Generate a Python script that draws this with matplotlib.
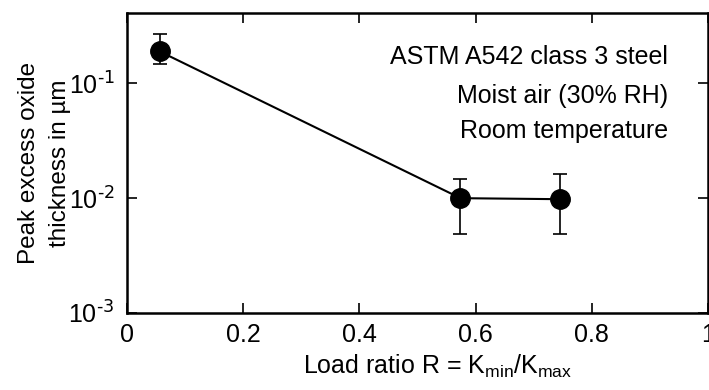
import matplotlib

matplotlib.use("Agg")
import matplotlib.pyplot as plt
import numpy as np

plt.rcParams["font.family"] = ["Liberation Sans", "DejaVu Sans"]
plt.rcParams["mathtext.default"] = "regular"

# Data
load_ratio = [0.056, 0.574, 0.745]
thickness = [0.19, 0.0100, 0.0098]
err_upper = [0.27, 0.0146, 0.0162]
err_lower = [0.148, 0.0049, 0.0049]

x_ticks = [0, 0.2, 0.4, 0.6, 0.8, 1]
x_tick_labels = ["0", "0.2", "0.4", "0.6", "0.8", "1"]
y_ticks = [1e-3, 1e-2, 1e-1]
y_tick_labels = ["10$^{\\text{-3}}$", "10$^{\\text{-2}}$", "10$^{\\text{-1}}$"]
notes = ["ASTM A542 class 3 steel", "Moist air (30% RH)", "Room temperature"]
note_y = [0.853, 0.723, 0.607]

fig = plt.figure(figsize=(7.09, 3.9), dpi=100)
ax = fig.add_axes([127 / 709, 1 - 313 / 390, (708 - 127) / 709, 300 / 390])

y = np.array(thickness)
yerr = np.vstack([y - np.array(err_lower), np.array(err_upper) - y])
ax.errorbar(load_ratio, thickness, yerr=yerr, fmt="-o", color="black",
            markersize=14, linewidth=1.5, elinewidth=1.2, capsize=5, capthick=1.2)

ax.set_yscale("log")
ax.set_xlim(0, 0.993)
ax.set_ylim(1e-3, 0.41)
ax.set_xticks(x_ticks)
ax.set_xticklabels(x_tick_labels)
ax.set_yticks(y_ticks)
ax.set_yticklabels(y_tick_labels)
ax.yaxis.set_minor_locator(matplotlib.ticker.NullLocator())
ax.tick_params(direction="in", length=7, width=1.2, top=True, right=True,
               labelsize=18)
ax.tick_params(axis="x", pad=7)
ax.tick_params(axis="y", pad=9)
for s in ax.spines.values():
    s.set_linewidth(1.8)

ax.set_xlabel("Load ratio R = K$_{min}$/K$_{max}$", fontsize=18)
ax.xaxis.set_label_coords(0.534, -0.133)
ax.set_ylabel("Peak excess oxide\nthickness in \u00b5m", fontsize=17.5,
              linespacing=1.5)
ax.yaxis.set_label_coords(-0.097, 0.5)

for t, yy in zip(notes, note_y):
    ax.text(0.931, yy, t, transform=ax.transAxes, ha="right",
            va="center", fontsize=18)

fig.savefig("out.png", dpi=100)
